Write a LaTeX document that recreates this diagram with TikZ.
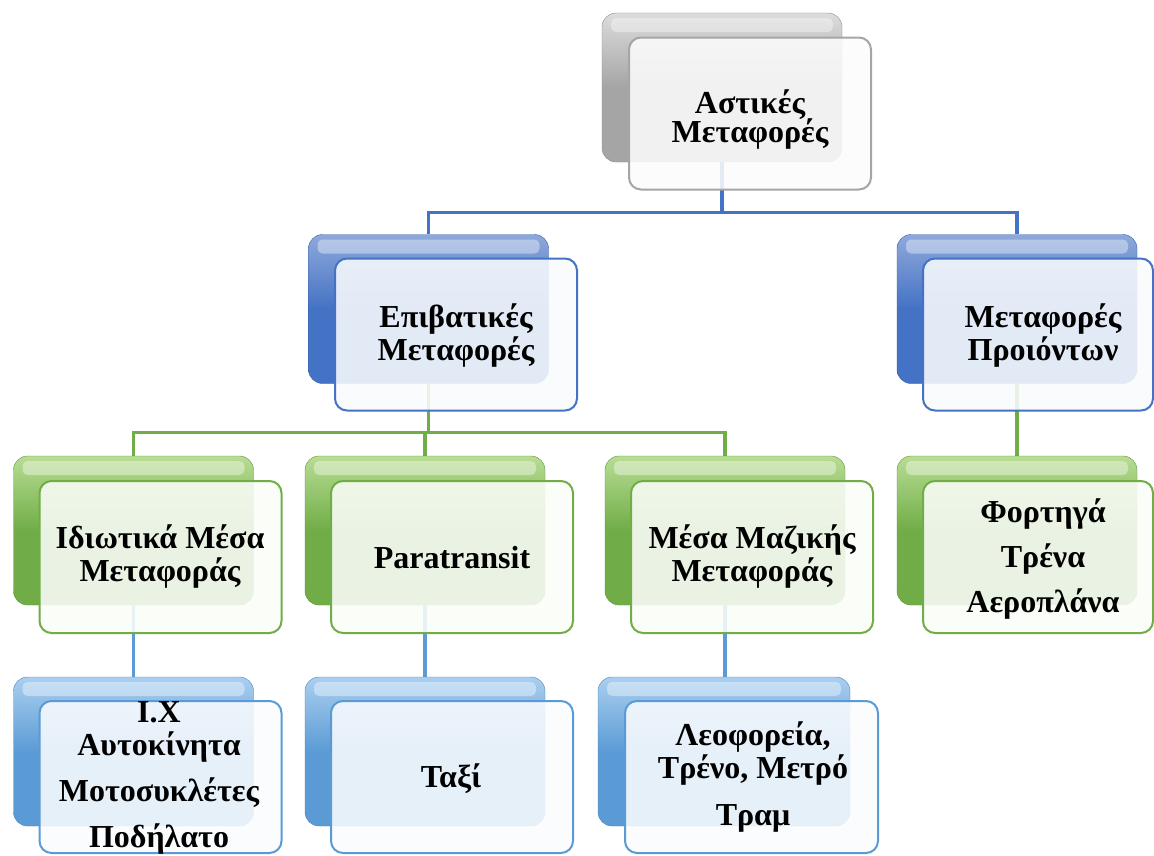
\documentclass[tikz,border=0pt]{standalone}
\usepackage{fontspec}
\setmainfont{Liberation Serif}
\pgfdeclarelayer{bg}
\pgfsetlayers{bg,main}
\definecolor{grayB}{HTML}{A5A5A5}\definecolor{grayL}{HTML}{DCDCDC}
\definecolor{blueB}{HTML}{4472C4}\definecolor{blueL}{HTML}{8EA9DB}
\definecolor{greenB}{HTML}{70AD47}\definecolor{greenL}{HTML}{B8DD94}
\definecolor{lblueB}{HTML}{5B9BD5}\definecolor{lblueL}{HTML}{AACFF0}
\newcommand\boxfont{\fontsize{32}{33}\selectfont\bfseries\lineskiplimit=-100pt\lineskip=0pt\relax}
\tikzset{
  backbox/.style={rounded corners=14pt, minimum width=240pt, minimum height=149pt,
    inner sep=0pt, top color=#1L, bottom color=#1B, middle color=#1B,
    draw=#1B!85!black, line width=0.4pt,
    path picture={\fill[white,opacity=.38,rounded corners=5pt]
      ([xshift=9pt,yshift=-5pt]path picture bounding box.north west) rectangle
      ([xshift=-9pt,yshift=-19pt]path picture bounding box.north east);}},
  frontbox/.style={rounded corners=12pt, minimum width=242pt, minimum height=152pt,
    inner sep=0pt, draw=#1B, line width=2pt, fill=#1B!3!white, fill opacity=.88,
    text opacity=1},
  txt/.style={inner sep=0pt, align=center, font=\boxfont},
  conn/.style={draw=#1, line width=3.2pt}
}
\begin{document}
\begin{tikzpicture}[x=1pt,y=-1pt]
\useasboundingbox (0,0) rectangle (1154,855);
\begin{pgfonlayer}{bg}
\fill[white] (0,0) rectangle (1154,855);
\end{pgfonlayer}
% level 1
\node[backbox=gray] (b-root) at (722,87.5) {};
\node[frontbox=gray] (f-root) at (750,113.5) {};
\node[txt] (t-root) at (750,120) {Αστικές\\[-4pt]Μεταφορές};
% level 2
\node[backbox=blue] (b-epi) at (428.5,309) {};
\node[frontbox=blue] (f-epi) at (456,334.5) {};
\node[txt] (t-epi) at (456,336) {Επιβατικές\\Μεταφορές};
\node[backbox=blue] (b-pro) at (1017,309) {};
\node[frontbox=blue, minimum width=230pt] (f-pro) at (1038,334.5) {};
\node[txt] (t-pro) at (1043,336) {Μεταφορές\\Προιόντων};
% level 3
\node[backbox=green] (b-idi) at (133.5,530.5) {};
\node[frontbox=green] (f-idi) at (160.5,557) {};
\node[txt] (t-idi) at (160,557) {Ιδιωτικά Μέσα\\Μεταφοράς};
\node[backbox=green] (b-para) at (425,530.5) {};
\node[frontbox=green] (f-para) at (452,557) {};
\node[txt] (t-para) at (452,558) {Paratransit};
\node[backbox=green] (b-mesa) at (725,530.5) {};
\node[frontbox=green] (f-mesa) at (752,557) {};
\node[txt] (t-mesa) at (752,557) {Μέσα Μαζικής\\Μεταφοράς};
\node[backbox=green] (b-fort) at (1017,530.5) {};
\node[frontbox=green, minimum width=230pt] (f-fort) at (1038,557) {};
\node[txt] (t-fort) at (1043,559) {Φορτηγά\\[12pt]Τρένα\\[12pt]Αεροπλάνα};
% level 4
\node[backbox=lblue] (b-ix) at (133.5,751.5) {};
\node[frontbox=lblue] (f-ix) at (160.5,777) {};
\node[txt] (t-ix) at (159,778) {Ι.Χ\\Αυτοκίνητα\\[13pt]Μοτοσυκλέτες\\[13pt]Ποδήλατο};
\node[backbox=lblue] (b-taxi) at (425,751.5) {};
\node[frontbox=lblue] (f-taxi) at (452,777) {};
\node[txt] (t-taxi) at (451,779) {Ταξί};
\node[backbox=lblue, minimum width=252pt] (b-leo) at (724,751.5) {};
\node[frontbox=lblue, minimum width=253pt] (f-leo) at (751.5,777) {};
\node[txt] (t-leo) at (753,777) {Λεοφορεία,\\Τρένο, Μετρό\\[14pt]Τραμ};
% connectors
\begin{pgfonlayer}{bg}
\draw[conn=blueB] (b-root.south) -- ++(0,50) -| (b-epi.north);
\draw[conn=blueB] (b-root.south) -- ++(0,50) -| (b-pro.north);
\draw[conn=greenB] (b-epi.south) -- ++(0,49) -| (b-idi.north);
\draw[conn=greenB] (b-epi.south) -- ++(0,49) -| (b-para.north);
\draw[conn=greenB] (b-epi.south) -- ++(0,49) -| (b-mesa.north);
\draw[conn=greenB] (b-pro.south) -- (b-fort.north);
\draw[conn=lblueB] (b-idi.south) -- (b-ix.north);
\draw[conn=lblueB] (b-para.south) -- (b-taxi.north);
\draw[conn=lblueB] (b-mesa.south) -- (b-mesa.south |- b-leo.north);
\end{pgfonlayer}
\end{tikzpicture}
\end{document}
